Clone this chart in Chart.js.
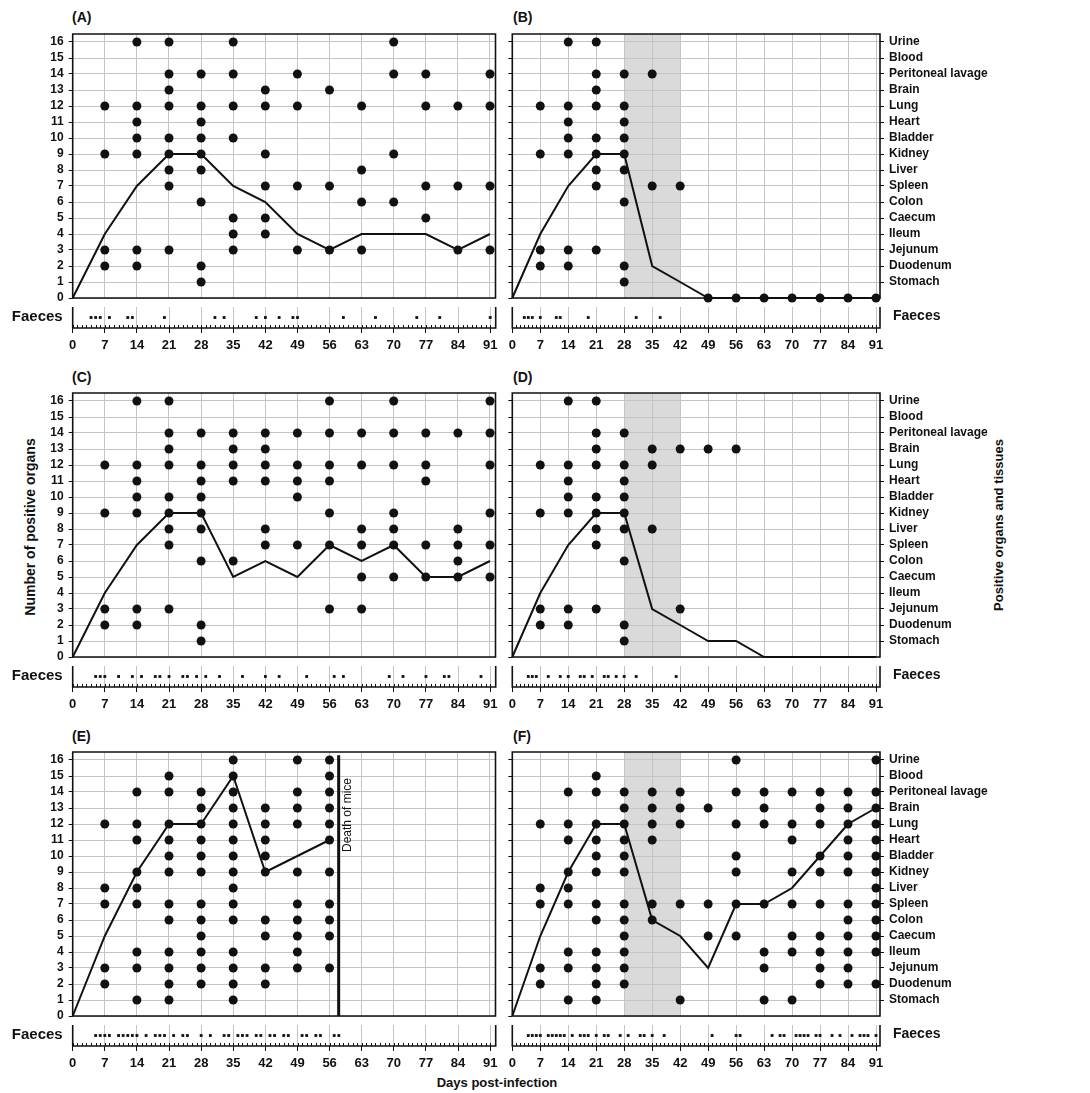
<!DOCTYPE html>
<html>
<head>
<meta charset="utf-8">
<script src="https://cdn.jsdelivr.net/npm/chart.js@4.4.1/dist/chart.umd.min.js"></script>
<style>
  body { margin: 0; background: #fff; }
  #fig { position: relative; width: 1090px; height: 1093px; font-family: "Liberation Sans", Arial, sans-serif; font-weight: bold; color: #111; }
  #fig canvas { position: absolute; }
  .lbl { position: absolute; white-space: nowrap; }
  .rot { transform: translate(-50%, -50%) rotate(-90deg); }
</style>
</head>
<body>
<div id="fig">
  <div class="lbl" style="left:72px;top:9px;font-size:14px">(A)</div>
  <div class="lbl" style="left:513px;top:9px;font-size:14px">(B)</div>
  <div class="lbl" style="left:72px;top:369px;font-size:14px">(C)</div>
  <div class="lbl" style="left:513px;top:369px;font-size:14px">(D)</div>
  <div class="lbl" style="left:72px;top:728px;font-size:14px">(E)</div>
  <div class="lbl" style="left:513px;top:728px;font-size:14px">(F)</div>
  <div class="lbl rot" style="left:30px;top:527px;font-size:14px">Number of positive organs</div>
  <div class="lbl rot" style="left:998px;top:525px;font-size:13px">Positive organs and tissues</div>
  <div class="lbl" style="left:497px;top:1082px;font-size:13px;transform:translate(-50%,-50%)">Days post-infection</div>
</div>
<script>
// sampling days and axis ticks
const days = [0, 7, 14, 21, 28, 35, 42, 49, 56, 63, 70, 77, 84, 91];
const yTicks = [0, 1, 2, 3, 4, 5, 6, 7, 8, 9, 10, 11, 12, 13, 14, 15, 16];
const organs = ['Stomach', 'Duodenum', 'Jejunum', 'Ileum', 'Caecum', 'Colon', 'Spleen', 'Liver',
  'Kidney', 'Bladder', 'Heart', 'Lung', 'Brain', 'Peritoneal lavage', 'Blood', 'Urine'];
const bandDays = [28, 42];
const deathDay = 58;

// (A)
const countA = [0, 4, 7, 9, 9, 7, 6, 4, 3, 4, 4, 4, 3, 4];
const dotsA = [[], [12, 9, 3, 2], [16, 12, 11, 10, 9, 3, 2], [16, 14, 13, 12, 10, 9, 8, 7, 3],
  [14, 12, 11, 10, 9, 8, 6, 2, 1], [16, 14, 12, 10, 5, 4, 3], [13, 12, 9, 7, 5, 4], [14, 12, 7, 3],
  [13, 7, 3], [12, 8, 6, 3], [16, 14, 9, 6], [14, 12, 7, 5], [12, 7, 3], [14, 12, 7, 3]];
const faecesA = [4, 5, 6, 8, 12, 13, 20, 31, 33, 40, 42, 45, 48, 49, 59, 66, 75, 80, 91];

// (B)
const countB = [0, 4, 7, 9, 9, 2, 1, 0, 0, 0, 0, 0, 0, 0];
const dotsB = [[], [12, 9, 3, 2], [16, 12, 11, 10, 9, 3, 2], [16, 14, 13, 12, 10, 9, 8, 7, 3],
  [14, 12, 11, 10, 9, 8, 6, 2, 1], [14, 7], [7], [], [], [], [], [], [], []];
const noneB = [49, 56, 63, 70, 77, 84, 91];
const faecesB = [3, 4, 5, 7, 11, 12, 19, 31, 37];

// (C)
const countC = [0, 4, 7, 9, 9, 5, 6, 5, 7, 6, 7, 5, 5, 6];
const dotsC = [[], [12, 9, 3, 2], [16, 12, 11, 10, 9, 3, 2], [16, 14, 13, 12, 10, 9, 8, 7, 3],
  [14, 12, 11, 10, 9, 8, 6, 2, 1], [14, 13, 12, 11, 6], [14, 13, 12, 11, 8, 7], [14, 12, 11, 10, 7],
  [16, 14, 12, 11, 9, 7, 3], [14, 12, 8, 7, 5, 3], [16, 14, 12, 9, 8, 7, 5], [14, 12, 11, 7, 5],
  [14, 8, 7, 6, 5], [16, 14, 12, 9, 7, 5]];
const faecesC = [5, 6, 7, 10, 13, 15, 18, 19, 21, 24, 25, 27, 29, 32, 37, 42, 45, 51, 57, 59, 69, 72, 77, 81, 82, 89];

// (D)
const countD = [0, 4, 7, 9, 9, 3, 2, 1, 1, 0, 0, 0, 0, 0];
const dotsD = [[], [12, 9, 3, 2], [16, 12, 11, 10, 9, 3, 2], [16, 14, 13, 12, 10, 9, 8, 7, 3],
  [14, 12, 11, 10, 9, 8, 6, 2, 1], [13, 12, 8], [13, 3], [13], [13], [], [], [], [], []];
const faecesD = [4, 5, 6, 9, 12, 14, 17, 18, 20, 23, 24, 26, 28, 31, 41];

// (E)
const countE = [0, 5, 9, 12, 12, 15, 9, 10, 11];
const dotsE = [[], [12, 8, 7, 3, 2], [14, 12, 11, 9, 8, 7, 4, 3, 1], [15, 14, 12, 11, 10, 9, 7, 6, 4, 3, 2, 1],
  [14, 13, 12, 11, 10, 9, 7, 6, 5, 4, 3, 2], [16, 15, 14, 13, 12, 11, 10, 9, 8, 7, 6, 4, 3, 2, 1],
  [13, 12, 11, 10, 9, 6, 5, 3, 2], [16, 14, 13, 12, 9, 7, 6, 5, 4, 3], [16, 15, 14, 13, 12, 11, 9, 7, 6, 5, 3]];
const faecesE = [5, 6, 7, 8, 10, 11, 12, 13, 14, 16, 18, 19, 20, 22, 24, 25, 28, 30, 33, 34, 36, 37, 38,
  40, 41, 43, 44, 46, 47, 50, 51, 53, 54, 57, 58];

// (F)
const countF = [0, 5, 9, 12, 12, 6, 5, 3, 7, 7, 8, 10, 12, 13];
const dotsF = [[], [12, 8, 7, 3, 2], [14, 12, 11, 9, 8, 7, 4, 3, 1], [15, 14, 12, 11, 10, 9, 7, 6, 4, 3, 2, 1],
  [14, 13, 12, 11, 10, 9, 7, 6, 5, 4, 3, 2], [14, 13, 12, 11, 7, 6], [14, 13, 12, 7, 1], [13, 7, 5],
  [16, 14, 12, 10, 9, 7, 5], [14, 13, 12, 7, 4, 3, 1], [14, 12, 11, 9, 7, 5, 4, 1],
  [14, 13, 12, 10, 9, 7, 5, 4, 3, 2], [14, 13, 12, 11, 10, 9, 7, 6, 5, 4, 3, 2],
  [16, 14, 13, 12, 11, 10, 9, 8, 7, 6, 5, 4, 2]];
const faecesF = [4, 5, 6, 7, 9, 10, 11, 12, 13, 15, 17, 18, 19, 21, 23, 24, 27, 29, 32, 33, 35, 38, 50,
  56, 57, 65, 67, 68, 71, 72, 73, 74, 76, 77, 80, 82, 85, 87, 88, 89, 91];

Chart.defaults.font.family = '"Liberation Sans", Arial, sans-serif';
Chart.defaults.font.weight = 'bold';
Chart.defaults.color = '#111';

const ink = '#111';
const gridGrey = '#c4c4c4';

// shaded treatment band, frame, day ticks in the faeces strip, death label
const panelFrame = {
  id: 'panelFrame',
  beforeDraw(chart, args, opts) {
    const {ctx, chartArea: a, scales: {x}} = chart;
    if (opts.band) {
      const x0 = x.getPixelForValue(opts.band[0]);
      const x1 = x.getPixelForValue(opts.band[1]);
      ctx.save();
      ctx.fillStyle = '#dadada';
      ctx.fillRect(x0, a.top, x1 - x0, a.bottom - a.top);
      ctx.restore();
    }
  },
  afterDraw(chart, args, opts) {
    const {ctx, chartArea: a, scales: {x}} = chart;
    ctx.save();
    ctx.strokeStyle = ink;
    ctx.lineWidth = 1.6;
    ctx.beginPath();
    if (opts.strip) {
      ctx.moveTo(a.left, a.top);
      ctx.lineTo(a.left, a.bottom);
      ctx.lineTo(a.right, a.bottom);
      ctx.lineTo(a.right, a.top);
    } else {
      ctx.rect(a.left, a.top, a.right - a.left, a.bottom - a.top);
    }
    ctx.stroke();
    if (opts.strip) {
      ctx.lineWidth = 1;
      ctx.beginPath();
      for (let d = days[0]; d <= days[days.length - 1]; d++) {
        const px = Math.round(x.getPixelForValue(d)) + 0.5;
        ctx.moveTo(px, a.bottom);
        ctx.lineTo(px, a.bottom - 3);
      }
      ctx.stroke();
    }
    if (opts.death !== undefined) {
      ctx.fillStyle = ink;
      ctx.font = '12px "Liberation Sans", Arial, sans-serif';
      ctx.translate(x.getPixelForValue(opts.death) + 9, a.top + 26);
      ctx.rotate(-Math.PI / 2);
      ctx.textAlign = 'right';
      ctx.textBaseline = 'middle';
      ctx.fillText('Death of mice', 0, 0);
    }
    ctx.restore();
  }
};

const fig = document.getElementById('fig');

function addCanvas(left, top, w, h) {
  const c = document.createElement('canvas');
  c.width = w;
  c.height = h;
  c.style.left = left + 'px';
  c.style.top = top + 'px';
  c.style.width = w + 'px';
  c.style.height = h + 'px';
  fig.appendChild(c);
  return c;
}

function dotPoints(dots, none) {
  const pts = [];
  dots.forEach((list, i) => list.forEach(v => pts.push({x: days[i], y: v})));
  (none || []).forEach(d => pts.push({x: d, y: 0}));
  return pts;
}

// fixed axis size, no extra label padding pushed into the layout
function fixSize(prop, size) {
  return s => {
    s[prop] = size;
    s.paddingTop = 0;
    s.paddingBottom = 0;
    s.paddingLeft = 0;
    s.paddingRight = 0;
  };
}

const cols = [
  {left: 0, width: 500, plotLeft: 72.7, plotRight: 495.7, xMax: 92.2},
  {left: 500, width: 590, plotLeft: 512.3, plotRight: 880, xMax: 92}
];
const rowTops = [34.3, 392.7, 751.7];
const plotH = 264;
const pad = 12;

const panels = [
  {col: 0, row: 0, count: countA, dots: dotsA, faeces: faecesA},
  {col: 1, row: 0, count: countB, dots: dotsB, faeces: faecesB, band: bandDays, none: noneB},
  {col: 0, row: 1, count: countC, dots: dotsC, faeces: faecesC},
  {col: 1, row: 1, count: countD, dots: dotsD, faeces: faecesD, band: bandDays},
  {col: 0, row: 2, count: countE, dots: dotsE, faeces: faecesE, death: deathDay},
  {col: 1, row: 2, count: countF, dots: dotsF, faeces: faecesF, band: bandDays}
];

panels.forEach(p => {
  const c = cols[p.col];
  const isLeft = p.col === 0;
  const top = rowTops[p.row];
  const leftW = c.plotLeft - c.left;
  const rightW = c.left + c.width - c.plotRight;

  // main plot
  const datasets = [
    {
      data: dotPoints(p.dots, p.none),
      pointRadius: 4.5,
      pointBackgroundColor: ink,
      pointBorderWidth: 0,
      clip: false
    },
    {
      data: p.count.map((v, i) => ({x: days[i], y: v})),
      showLine: true,
      borderColor: ink,
      borderWidth: 2,
      pointRadius: 0,
      tension: 0,
      clip: false
    }
  ];
  if (p.death !== undefined) {
    datasets.push({
      data: [{x: p.death, y: 0}, {x: p.death, y: 16.3}],
      showLine: true,
      borderColor: ink,
      borderWidth: 3,
      pointRadius: 0
    });
  }

  const scales = {
    x: {
      type: 'linear', min: 0, max: c.xMax,
      afterBuildTicks: s => { s.ticks = days.map(v => ({value: v})); },
      ticks: {display: false},
      grid: {color: gridGrey, drawTicks: false},
      border: {display: false},
      afterFit: fixSize('height', 0)
    },
    y: {
      type: 'linear', position: 'left', min: 0, max: 16.5,
      afterBuildTicks: s => { s.ticks = yTicks.map(v => ({value: v})); },
      ticks: {display: isLeft, autoSkip: false, padding: 5, font: {size: 12}},
      grid: {color: gridGrey, tickColor: ink, tickLength: 4},
      border: {display: false},
      afterFit: fixSize('width', leftW)
    }
  };
  if (!isLeft) {
    scales.yOrg = {
      type: 'linear', position: 'right', min: 0, max: 16.5,
      afterBuildTicks: s => { s.ticks = yTicks.slice(1).map(v => ({value: v})); },
      ticks: {autoSkip: false, padding: 5, font: {size: 12}, callback: v => organs[v - 1]},
      grid: {drawOnChartArea: false, tickColor: ink, tickLength: 4},
      border: {display: false},
      afterFit: fixSize('width', rightW)
    };
  }

  new Chart(addCanvas(c.left, top - pad, c.width, plotH + 2 * pad), {
    type: 'scatter',
    data: {datasets: datasets},
    options: {
      responsive: false,
      animation: false,
      events: [],
      layout: {padding: {top: pad, bottom: pad, left: 0, right: isLeft ? rightW : 0}},
      scales: scales,
      plugins: {
        legend: {display: false},
        tooltip: {enabled: false},
        panelFrame: {band: p.band, death: p.death}
      }
    },
    plugins: [panelFrame]
  });

  // faeces strip with the day axis
  const stripH = 25;
  const axisH = 32;
  new Chart(addCanvas(c.left, top + plotH + 5, c.width, stripH + axisH), {
    type: 'scatter',
    data: {
      datasets: [{
        data: p.faeces.map(d => ({x: d, y: 0.5})),
        pointStyle: 'rect',
        pointRadius: 2,
        pointBackgroundColor: ink,
        pointBorderWidth: 0,
        clip: false
      }]
    },
    options: {
      responsive: false,
      animation: false,
      events: [],
      layout: {padding: {top: 0, bottom: 0, left: isLeft ? 0 : leftW, right: isLeft ? rightW : 0}},
      scales: {
        x: {
          type: 'linear', min: 0, max: c.xMax,
          afterBuildTicks: s => { s.ticks = days.map(v => ({value: v})); },
          ticks: {autoSkip: false, maxRotation: 0, padding: 5, font: {size: 13}},
          grid: {color: gridGrey, tickColor: ink, tickLength: 5},
          border: {display: false},
          afterFit: fixSize('height', axisH)
        },
        y: {
          type: 'linear', position: isLeft ? 'left' : 'right', min: 0, max: 1,
          afterBuildTicks: s => { s.ticks = [{value: 0.55}]; },
          ticks: {padding: isLeft ? 10 : 13, font: {size: isLeft ? 15 : 14}, callback: () => 'Faeces'},
          grid: {display: false, drawTicks: false},
          border: {display: false},
          afterFit: fixSize('width', isLeft ? leftW : rightW)
        }
      },
      plugins: {
        legend: {display: false},
        tooltip: {enabled: false},
        panelFrame: {strip: true}
      }
    },
    plugins: [panelFrame]
  });
});
</script>
</body>
</html>
